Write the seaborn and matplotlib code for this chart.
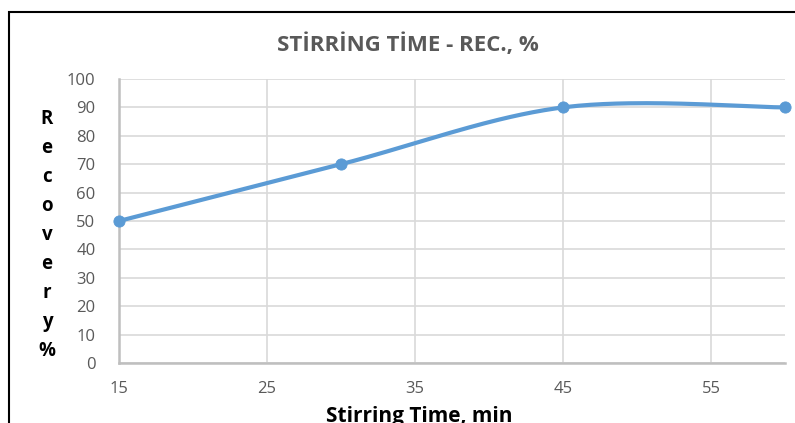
import numpy as np
import matplotlib
matplotlib.use("Agg")
import matplotlib.pyplot as plt
import seaborn as sns
from matplotlib.patches import Rectangle

# Data
stirring_time = [15, 30, 45, 60]
recovery = [50, 70, 90, 90]
x_ticks = [15, 25, 35, 45, 55]
y_ticks = [0, 10, 20, 30, 40, 50, 60, 70, 80, 90, 100]

title = "STİRRİNG TİME - REC., %"
xlabel = "Stirring Time, min"
ylabel = "Recovery%"

LINE_COLOR = "#5B9BD5"
GRAY_TEXT = "#595959"


def smooth_curve(xs, ys, n=60):
    # Excel-like smoothed line: cubic Bezier with Catmull-Rom control points
    xs = np.asarray(xs, float)
    ys = np.asarray(ys, float)
    pts = np.column_stack([xs, ys])
    out = []
    for i in range(len(pts) - 1):
        p0 = pts[i - 1] if i > 0 else pts[i]
        p1 = pts[i]
        p2 = pts[i + 1]
        p3 = pts[i + 2] if i + 2 < len(pts) else pts[i + 1]
        c1 = p1 + (p2 - p0) / 6
        c2 = p2 - (p3 - p1) / 6
        t = np.linspace(0, 1, n)[:, None]
        seg = ((1 - t) ** 3) * p1 + 3 * ((1 - t) ** 2) * t * c1 + 3 * (1 - t) * t ** 2 * c2 + t ** 3 * p2
        out.append(seg if i == 0 else seg[1:])
    out = np.vstack(out)
    return out[:, 0], out[:, 1]


sns.set_theme(style="white")
plt.rcParams["font.family"] = ["Open Sans", "DejaVu Sans"]

fig = plt.figure(figsize=(7.95, 4.23), dpi=100)
ax = fig.add_axes([119 / 795, 60 / 423, 666 / 795, 284 / 423])

sx, sy = smooth_curve(stirring_time, recovery)
sns.lineplot(x=sx, y=sy, sort=False, estimator=None, color=LINE_COLOR,
             linewidth=3.0, ax=ax, zorder=3)
sns.scatterplot(x=stirring_time, y=recovery, color=LINE_COLOR, s=65,
                edgecolor=LINE_COLOR, ax=ax, zorder=4, clip_on=False)

ax.set_xlim(15, 60)
ax.set_ylim(0, 100)
ax.set_xticks(x_ticks)
ax.set_yticks(y_ticks)
ax.grid(True, color="#D9D9D9", linewidth=1.2)
ax.set_axisbelow(True)

for side in ["top", "right"]:
    ax.spines[side].set_visible(False)
for side in ["left", "bottom"]:
    ax.spines[side].set_color("#BFBFBF")
    ax.spines[side].set_linewidth(1.8)

ax.tick_params(axis="both", length=0, labelsize=12, labelcolor=GRAY_TEXT)
ax.tick_params(axis="x", pad=13)
ax.tick_params(axis="y", pad=17)

ax.set_xlabel("")
ax.set_ylabel("")

fig.text(408 / 795, 1 - 45 / 423, title, ha="center", va="center",
         fontsize=16, fontweight="bold", color=GRAY_TEXT)
fig.text(419 / 795, 1 - 416 / 423, xlabel, ha="center", va="center",
         fontsize=15, fontweight="bold", color="black")
fig.text(47 / 795, 1 - 235 / 423, "\n".join(ylabel), ha="center",
         va="center", fontsize=13.5, fontweight="bold", color="black",
         linespacing=1.6)

# chart frame (cropped at right and bottom in the reference)
fig.patches.append(Rectangle((9 / 795, -0.1), 1.2, 1 - 12 / 423 + 0.1,
                             transform=fig.transFigure, fill=False,
                             edgecolor="black", linewidth=1.5))

fig.savefig("out.png", dpi=100)
